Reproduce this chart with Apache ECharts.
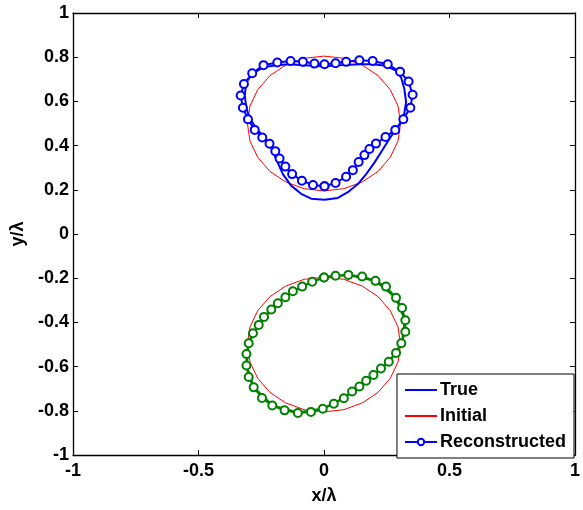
<!DOCTYPE html>
<html>
<head>
<meta charset="utf-8">
<script src="https://cdn.jsdelivr.net/npm/echarts@6/dist/echarts.min.js"></script>
<style>html,body{margin:0;padding:0;background:#fff}#c{width:583px;height:510px}</style>
</head>
<body>
<div id="c"></div>
<script>
var xTicks = [-1, -0.5, 0, 0.5, 1];
var yTicks = [-1, -0.8, -0.6, -0.4, -0.2, 0, 0.2, 0.4, 0.6, 0.8, 1];
var legendNames = ['True', 'Initial', 'Reconstructed'];

var trueTop = [[0.002,0.155],[0.055,0.163],[0.095,0.189],[0.135,0.226],[0.168,0.271],[0.201,0.323],[0.234,0.382],[0.267,0.442],[0.300,0.494],[0.320,0.546],[0.327,0.598],[0.320,0.657],[0.307,0.709],[0.287,0.739],[0.247,0.761],[0.194,0.768],[0.141,0.768],[0.088,0.765],[0.046,0.764],[0.002,0.758],[-0.038,0.761],[-0.084,0.764],[-0.137,0.768],[-0.190,0.764],[-0.243,0.754],[-0.286,0.724],[-0.309,0.687],[-0.316,0.627],[-0.309,0.568],[-0.296,0.523],[-0.270,0.479],[-0.237,0.434],[-0.210,0.390],[-0.190,0.338],[-0.164,0.271],[-0.131,0.219],[-0.091,0.182],[-0.051,0.160],[0.002,0.155]];

var reconTop = [[0.002,0.216],[0.046,0.231],[0.088,0.259],[0.115,0.289],[0.138,0.326],[0.161,0.357],[0.181,0.385],[0.207,0.409],[0.245,0.439],[0.284,0.471],[0.316,0.519],[0.344,0.571],[0.353,0.630],[0.337,0.690],[0.303,0.734],[0.254,0.768],[0.194,0.783],[0.141,0.786],[0.088,0.779],[0.046,0.773],[0.002,0.768],[-0.038,0.771],[-0.084,0.779],[-0.133,0.783],[-0.186,0.776],[-0.241,0.764],[-0.286,0.727],[-0.319,0.679],[-0.332,0.627],[-0.323,0.571],[-0.303,0.519],[-0.276,0.471],[-0.246,0.437],[-0.217,0.408],[-0.194,0.375],[-0.177,0.342],[-0.154,0.305],[-0.127,0.271],[-0.088,0.241],[-0.044,0.222],[0.002,0.216]];

var initTop = [[0.305,0.500],[0.295,0.579],[0.264,0.653],[0.216,0.716],[0.153,0.764],[0.079,0.795],[0,0.805],[-0.079,0.795],[-0.153,0.764],[-0.216,0.716],[-0.264,0.653],[-0.295,0.579],[-0.305,0.500],[-0.295,0.421],[-0.264,0.347],[-0.216,0.284],[-0.153,0.236],[-0.079,0.205],[0,0.195],[0.079,0.205],[0.153,0.236],[0.216,0.284],[0.264,0.347],[0.295,0.421],[0.305,0.500]];

var initBottom = [[0.305,-0.500],[0.295,-0.421],[0.264,-0.347],[0.216,-0.284],[0.153,-0.236],[0.079,-0.205],[0,-0.195],[-0.079,-0.205],[-0.153,-0.236],[-0.216,-0.284],[-0.264,-0.347],[-0.295,-0.421],[-0.305,-0.500],[-0.295,-0.579],[-0.264,-0.653],[-0.216,-0.716],[-0.153,-0.764],[-0.079,-0.795],[0,-0.805],[0.079,-0.795],[0.153,-0.764],[0.216,-0.716],[0.264,-0.653],[0.295,-0.579],[0.305,-0.500]];

var trueBottom = [[0.000,-0.195],[0.097,-0.186],[0.205,-0.213],[0.287,-0.290],[0.322,-0.390],[0.310,-0.494],[0.260,-0.577],[0.197,-0.637],[0.141,-0.690],[0.079,-0.742],[-0.005,-0.790],[-0.104,-0.808],[-0.206,-0.775],[-0.280,-0.693],[-0.308,-0.595],[-0.300,-0.494],[-0.260,-0.412],[-0.210,-0.342],[-0.124,-0.259],[-0.047,-0.217],[0.000,-0.195]];

var reconBottom = [[0.000,-0.197],[0.046,-0.189],[0.097,-0.185],[0.152,-0.192],[0.205,-0.212],[0.247,-0.238],[0.287,-0.289],[0.311,-0.335],[0.324,-0.390],[0.324,-0.442],[0.308,-0.494],[0.287,-0.538],[0.258,-0.578],[0.227,-0.609],[0.197,-0.638],[0.168,-0.664],[0.141,-0.690],[0.112,-0.713],[0.079,-0.743],[0.039,-0.768],[-0.005,-0.791],[-0.052,-0.805],[-0.104,-0.810],[-0.157,-0.798],[-0.206,-0.776],[-0.247,-0.742],[-0.280,-0.694],[-0.300,-0.647],[-0.309,-0.595],[-0.309,-0.543],[-0.300,-0.494],[-0.283,-0.449],[-0.260,-0.412],[-0.239,-0.375],[-0.210,-0.342],[-0.184,-0.313],[-0.154,-0.286],[-0.124,-0.259],[-0.087,-0.238],[-0.047,-0.216],[0.000,-0.197]];

var FONT = 'Liberation Sans, Arial, sans-serif';
var chart = echarts.init(document.getElementById('c'));
var labelStyle = {color:'#000', fontFamily:FONT, fontWeight:'bold', fontSize:18};
function baseAxis(ticks, pos, showLabel, margin) {
  return {
    type:'value', position:pos, min:ticks[0], max:ticks[ticks.length-1],
    interval: ticks[1]-ticks[0],
    axisLine:{show:true, onZero:false, lineStyle:{color:'#000', width:1.3}},
    axisTick:{show:true, inside:true, length:5, lineStyle:{color:'#000', width:1}},
    splitLine:{show:false},
    axisLabel: showLabel ? Object.assign({margin:margin, formatter:function(v){return String(Math.round(v*10)/10);}}, labelStyle) : {show:false}
  };
}
var xa0 = baseAxis(xTicks,'bottom',true,7);
xa0.name = 'x/λ'; xa0.nameLocation='middle'; xa0.nameGap=32;
xa0.nameTextStyle = {color:'#000', fontFamily:FONT, fontWeight:'bold', fontSize:18};
var ya0 = baseAxis(yTicks,'left',true,4);
ya0.name = 'y/λ'; ya0.nameLocation='middle'; ya0.nameGap=37;
ya0.nameTextStyle = {color:'#000', fontFamily:FONT, fontWeight:'bold', fontSize:18};

function lineSeries(name, data, color, width, marker) {
  return {
    name:name, type:'line', data:data, xAxisIndex:0, yAxisIndex:0,
    showSymbol: !!marker, symbol: marker ? 'emptyCircle' : 'none', symbolSize:8,
    itemStyle:{color:color, borderColor:color, borderWidth:1.6},
    lineStyle:{color:color, width:width},
    animation:false, silent:true, z: marker ? 3 : 2
  };
}

chart.setOption({
  animation:false,
  backgroundColor:'#fff',
  grid:{left:73, right:7, top:13, bottom:48},
  xAxis:[xa0, baseAxis(xTicks,'top',false,0)],
  yAxis:[ya0, baseAxis(yTicks,'right',false,0)],
  legend:{
    data:[
      {name:legendNames[0], itemStyle:{opacity:0}},
      {name:legendNames[1], itemStyle:{opacity:0}},
      {name:legendNames[2]}
    ],
    orient:'vertical', right:9, bottom:52,
    backgroundColor:'#fff', borderColor:'#000', borderWidth:1, borderRadius:0,
    padding:[6,8,6,7], itemGap:6, itemWidth:32, itemHeight:8,
    textStyle:{color:'#000', fontFamily:FONT, fontWeight:'bold', fontSize:18, lineHeight:20, padding:[0,0,0,-2]},
    selectedMode:false
  },
  series:[
    lineSeries('Initial', initTop, '#ff0000', 1, false),
    lineSeries('Initial', initBottom, '#ff0000', 1, false),
    lineSeries('True', trueTop, '#0000ff', 2, false),
    lineSeries('Reconstructed', reconTop, '#0000ff', 2, true),
    lineSeries('True (2)', trueBottom, '#008000', 2, false),
    lineSeries('Reconstructed (2)', reconBottom, '#008000', 2, true)
  ]
});
</script>
</body>
</html>
